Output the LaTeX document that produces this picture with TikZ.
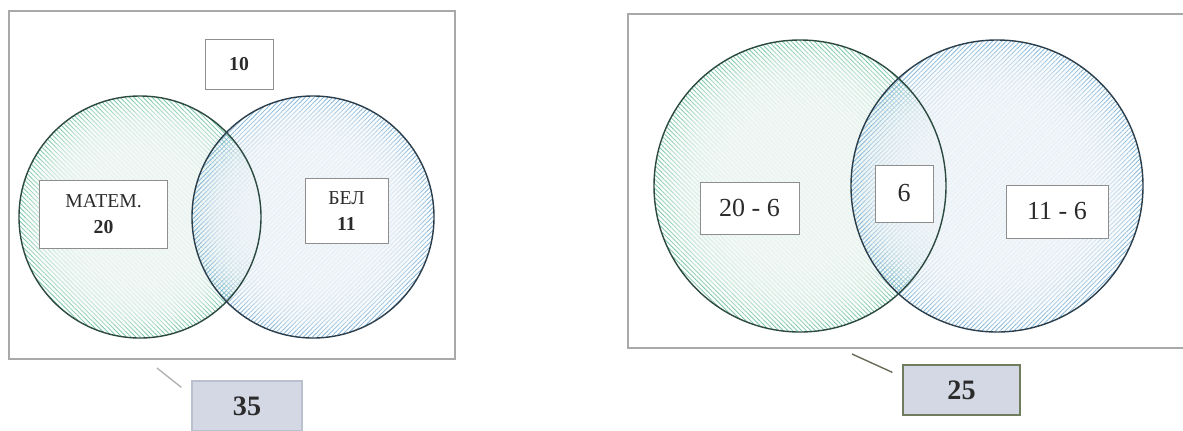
\documentclass[tikz,border=0pt]{standalone}
\usepackage{fontspec}
\setmainfont{Liberation Serif}
\usepackage{xcolor}
\usepackage{tikz}
\usetikzlibrary{positioning,patterns.meta,calc}

\definecolor{framegray}{HTML}{A9A9A9}
\definecolor{boxgray}{HTML}{8E8E8E}
\definecolor{inkgray}{HTML}{2B2B2B}
\definecolor{hatchgreen}{HTML}{7DC8AA}
\definecolor{hatchblue}{HTML}{86B6DA}
\definecolor{glowgreen}{HTML}{F1F8F5}
\definecolor{glowblue}{HTML}{F1F6FA}
\definecolor{rimgreen}{HTML}{2C4A40}
\definecolor{rimblue}{HTML}{2B3E4C}
\definecolor{sumfill}{HTML}{D3D8E4}
\definecolor{sumedgeL}{HTML}{B9C0CE}
\definecolor{sumedgeR}{HTML}{6F7D5E}
\definecolor{pointerL}{HTML}{B3B3B3}
\definecolor{pointerR}{HTML}{6A6A58}

\begin{document}
\begin{tikzpicture}[
  x=0.025cm, y=-0.025cm,
  every node/.style={text=inkgray},
  frame/.style={draw=framegray, line width=1pt},
  numbox/.style={draw=boxgray, fill=white, line width=0.7pt,
                 inner sep=0pt, align=center},
  smalltxt/.style={font=\fontsize{14}{18.4}\selectfont},
  bigtxt/.style={font=\fontsize{18.5}{20}\selectfont},
  sumbox/.style={fill=sumfill, line width=0.9pt, inner sep=0pt,
                 minimum height=1.25cm, font=\bfseries\fontsize{20}{22}\selectfont},
  hatchL/.style={pattern={Lines[angle=-45,distance=2.3pt,line width=0.6pt]},
                 pattern color=hatchgreen},
  hatchR/.style={pattern={Lines[angle=45,distance=2.3pt,line width=0.6pt]},
                 pattern color=hatchblue},
  glow/.style={fill opacity=0.22},
  rimL/.style={draw=rimgreen, line width=1pt},
  rimR/.style={draw=rimblue, line width=1pt},
  pointer/.style={line width=1pt},
]
\useasboundingbox (0,0) rectangle (1183,430);

%% ---- left panel: frame ----
\draw[frame] (9,11) rectangle (455,359);

%% ---- left panel: circles ----
\coordinate (matC) at (140,217);
\coordinate (belC) at (313,217);
\fill[hatchL] (matC) circle[radius=121];
\foreach \f in {0.95,0.91,...,0.55}
  \fill[glowgreen, glow] (matC) circle[radius=\f*121];
\fill[hatchR] (belC) circle[radius=121];
\foreach \f in {0.95,0.91,...,0.55}
  \fill[glowblue, glow] (belC) circle[radius=\f*121];
\draw[rimL] (matC) circle[radius=121];
\draw[rimR] (belC) circle[radius=121];

%% ---- left panel: labels ----
\node[numbox, minimum width=1.7cm, minimum height=1.25cm,
      font=\bfseries\fontsize{14}{16}\selectfont] (outside) at (239,64) {10};
\node[numbox, smalltxt, minimum width=3.175cm, minimum height=1.7cm]
  (mat) at (103.5,214) {МАТЕМ.\\\textbf{20}};
\node[numbox, smalltxt, minimum width=2.075cm, minimum height=1.625cm]
  (bel) at (346.5,211) {БЕЛ\\\textbf{11}};

%% ---- left panel: total ----
\node[sumbox, draw=sumedgeL, minimum width=2.75cm] (sumL) at (247,406) {35};
\coordinate (tailL) at (157,368);
\draw[pointer, pointerL] (tailL) -- ([shift={(-10,7)}]sumL.north west);

%% ---- right panel: frame ----
\draw[frame] (628,14) rectangle (1195,348);

%% ---- right panel: circles ----
\coordinate (onlyMatC) at (800,186);
\coordinate (onlyBelC) at (997,186);
\fill[hatchL] (onlyMatC) circle[radius=146];
\foreach \f in {0.95,0.91,...,0.55}
  \fill[glowgreen, glow] (onlyMatC) circle[radius=\f*146];
\fill[hatchR] (onlyBelC) circle[radius=146];
\foreach \f in {0.95,0.91,...,0.55}
  \fill[glowblue, glow] (onlyBelC) circle[radius=\f*146];
\draw[rimL] (onlyMatC) circle[radius=146];
\draw[rimR] (onlyBelC) circle[radius=146];

%% ---- right panel: labels ----
\node[numbox, bigtxt, minimum width=2.475cm, minimum height=1.3cm]
  (matOnly) at (749.5,208) {20 - 6};
\node[numbox, bigtxt, minimum width=1.45cm, minimum height=1.425cm]
  (both) at (904,193.5) {6};
\node[numbox, bigtxt, minimum width=2.55cm, minimum height=1.325cm]
  (belOnly) at (1057,211.5) {11 - 6};

%% ---- right panel: total ----
\node[sumbox, draw=sumedgeR, minimum width=2.925cm] (sumR) at (961.5,390) {25};
\coordinate (tailR) at (852,354);
\draw[pointer, pointerR] (tailR) -- ([shift={(-10,8)}]sumR.north west);
\end{tikzpicture}
\end{document}
